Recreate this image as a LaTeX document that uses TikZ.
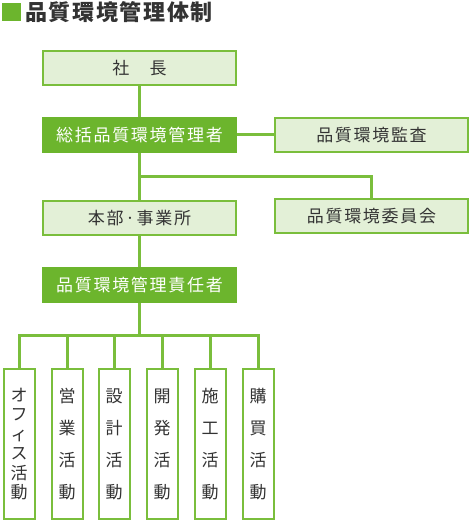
\documentclass[tikz,border=0pt]{standalone}
\usepackage{fontspec}
\usepackage{tikz}
\usetikzlibrary{positioning,calc}
\newfontfamily\cjk[LetterSpace=10]{Noto Sans CJK JP}
\newfontfamily\cjkcol{Noto Sans CJK JP}
\newfontfamily\cjktitle[LetterSpace=7.5]{Noto Sans CJK JP}
\definecolor{grline}{RGB}{122,190,60}
\definecolor{grdark}{RGB}{108,181,45}
\definecolor{grlight}{RGB}{227,240,215}
\definecolor{txtdark}{RGB}{51,51,51}
\tikzstyle{boxy} = [rectangle, minimum width=193pt, minimum
height=34pt, inner sep=0pt, text centered, draw=grline, line width=2pt, fill=grlight,
text=txtdark, font=\cjk\fontsize{17}{17}\selectfont]
\tikzstyle{boxydark} = [boxy, draw=grdark, fill=grdark, text=white]
\tikzstyle{boxycol} = [rectangle, minimum width=31pt, minimum height=150pt, inner sep=0pt,
align=center, draw=grline, line width=2pt, fill=white, text=txtdark,
font=\cjkcol\fontsize{17}{32}\selectfont]
\tikzstyle{link} = [draw=grline, line width=3pt]

\begin{document}
\begin{tikzpicture}[x=1pt, y=-1pt]
        \useasboundingbox (0,0) rectangle (470,521);
        \fill [grdark] (2,3) rectangle (21,21);
        \node (title) [anchor=west, inner sep=0pt, text=txtdark,
        font=\cjktitle\bfseries\fontsize{22}{22}\selectfont] at (25,12) {品質環境管理体制};
        %
        \node (pres) [boxy] at (139.5,68) {社　長};
        \node (gen) [boxydark, below=31pt of pres] {総括品質環境管理者};
        \node (audit) [boxy, right=37pt of gen] {品質環境監査};
        \node (hq) [boxy, below=47pt of gen] {本部·事業所};
        \node (comm) [boxy, right=37pt of hq, yshift=2pt] {品質環境委員会};
        \node (resp) [boxydark, below=31pt of hq] {品質環境管理責任者};
        \node (office) [boxycol, font=\cjkcol\fontsize{17}{19.5}\selectfont] at (19,444)
        {オ\\フ\\ィ\\ス\\活\\動};
        \node (sales) [boxycol, right=15pt of office] {営\\業\\活\\動};
        \node (design) [boxycol, right=14pt of sales] {設\\計\\活\\動};
        \node (devel) [boxycol, right=15pt of design] {開\\発\\活\\動};
        \node (build) [boxycol, right=15pt of devel] {施\\工\\活\\動};
        \node (purch) [boxycol, right=15pt of build] {購\\買\\活\\動};
        \coordinate (split) at ($(gen.south)!0.5!(hq.north)$);
        \coordinate (bus) at ($(resp.south)!0.5!(office.north -| resp.south)$);
        %
        \draw [link] (pres) -- (gen);
        \draw [link] (gen) -- (audit);
        \draw [link] (gen) -- (hq);
        \draw [link] (split) -| (comm.north);
        \draw [link] (hq) -- (resp);
        \draw [link] (resp) -- (bus);
        \draw [link] (bus) -| (office.north);
        \draw [link] (bus) -| (sales.north);
        \draw [link] (bus) -| (design.north);
        \draw [link] (bus) -| (devel.north);
        \draw [link] (bus) -| (build.north);
        \draw [link] (bus) -| (purch.north);
    \end{tikzpicture}
\end{document}
